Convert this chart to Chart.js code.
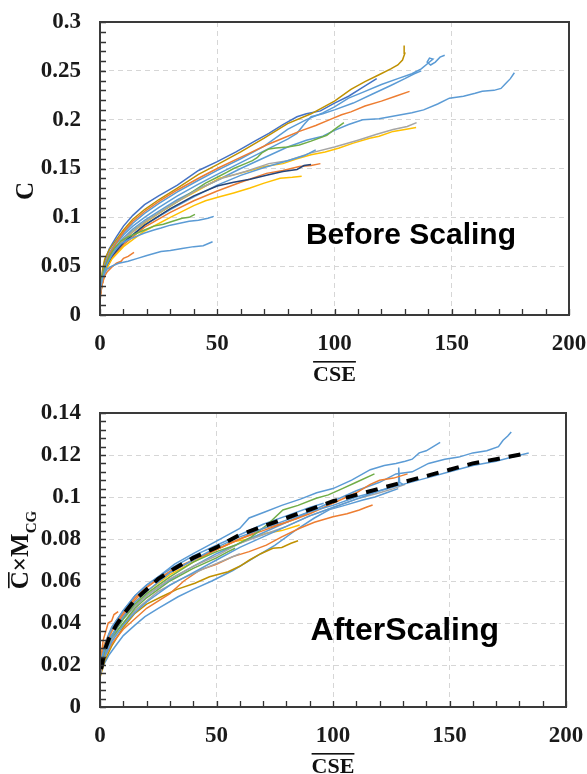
<!DOCTYPE html>
<html>
<head>
<meta charset="utf-8">
<script src="https://cdn.jsdelivr.net/npm/chart.js@4"></script>
<style>
  html, body { margin: 0; padding: 0; background: #fff; }
  .wrap { position: absolute; left: 0; width: 587px; }
  #top { top: 0; height: 390px; }
  #bot { top: 390px; height: 384px; }
</style>
</head>
<body>
<div class="wrap" id="top"><canvas id="chartTop" width="587" height="390"></canvas></div>
<div class="wrap" id="bot"><canvas id="chartBot" width="587" height="384"></canvas></div>
<script>
// ---- axis ticks ----
const xTicks = [0, 50, 100, 150, 200];
const yTicksTop = [0, 0.05, 0.1, 0.15, 0.2, 0.25, 0.3];
const yTicksBot = [0, 0.02, 0.04, 0.06, 0.08, 0.1, 0.12, 0.14];

// ---- Before Scaling: [CSE, C] ----
const t_lb1 = [[0,0.02],[0.5,0.03],[1,0.037],[2,0.043],[3,0.047],[5,0.05],[8,0.053],[12,0.055],[16,0.058],[20,0.061],[26,0.065],[30,0.066],[35,0.068],[40,0.07],[44,0.071],[48,0.075]];
const t_or1 = [[0,0.014],[0.5,0.025],[1,0.032],[2,0.04],[3,0.044],[5,0.049],[7,0.053],[9,0.055],[10,0.058],[12,0.06],[14.5,0.064]];
const t_lb2 = [[0,0.02],[1,0.036],[2,0.045],[3,0.052],[5,0.061],[7,0.068],[9,0.073],[12,0.077],[15,0.08],[19,0.084],[23,0.087],[26,0.089],[30,0.092],[34,0.094],[38,0.096],[42,0.097],[46,0.099],[48.5,0.101]];
const t_gn1 = [[0,0.022],[1,0.04],[2,0.048],[4,0.06],[6,0.068],[9,0.076],[12,0.08],[15,0.083],[19,0.087],[23,0.091],[27,0.093],[31,0.096],[35,0.099],[38,0.1],[40.5,0.103]];
const t_bl1 = [[0,0.022],[1,0.042],[2,0.055],[4,0.068],[7,0.08],[10,0.091],[14,0.102],[19,0.113],[25,0.122],[33,0.133],[42,0.148],[50,0.157],[58,0.167],[66,0.178],[72,0.186],[78,0.195],[84,0.203],[88,0.206],[94,0.209],[100,0.217],[106,0.224],[112,0.233],[118,0.242]];
const t_ol1 = [[0,0.02],[1,0.045],[2,0.057],[4,0.067],[7,0.077],[10,0.087],[14,0.098],[19,0.108],[25,0.118],[33,0.13],[42,0.144],[50,0.154],[60,0.167],[70,0.181],[80,0.196],[90,0.206],[100,0.219],[107,0.231],[113,0.239],[119,0.246],[124,0.252],[127,0.256],[129,0.261],[130,0.268],[129.7,0.276]];
const t_lb3 = [[0,0.02],[1,0.04],[2,0.052],[4,0.064],[7,0.075],[10,0.084],[14,0.094],[19,0.104],[25,0.114],[33,0.126],[42,0.138],[50,0.148],[60,0.16],[70,0.173],[80,0.19],[88,0.2],[95,0.207],[100,0.213],[106,0.222],[112,0.228],[120,0.236],[127,0.242],[133,0.247],[137,0.252],[140,0.258],[142,0.262],[140.5,0.263],[139.5,0.259],[141,0.256],[143,0.259],[145,0.264],[147,0.266]];
const t_lb4 = [[0,0.02],[1,0.038],[2,0.05],[4,0.062],[7,0.073],[10,0.082],[14,0.091],[19,0.1],[25,0.11],[33,0.122],[42,0.134],[50,0.144],[60,0.156],[70,0.168],[80,0.18],[84,0.186],[87,0.195],[90,0.203],[95,0.206],[100,0.21],[108,0.217],[116,0.226],[124,0.235],[130,0.242],[134,0.247],[137,0.25]];
const t_or2 = [[0,0.018],[1,0.038],[2,0.05],[4,0.062],[7,0.074],[10,0.085],[14,0.096],[19,0.106],[25,0.116],[33,0.128],[42,0.14],[50,0.15],[57,0.158],[64,0.166],[71,0.174],[78,0.181],[85,0.188],[92,0.194],[98,0.2],[103,0.205],[107,0.208],[113,0.214],[120,0.219],[126,0.224],[132,0.229]];
const t_lb5 = [[0,0.02],[1,0.036],[2,0.047],[4,0.059],[7,0.07],[10,0.079],[14,0.088],[19,0.097],[25,0.106],[33,0.118],[42,0.129],[50,0.138],[60,0.15],[70,0.161],[80,0.172],[88,0.179],[95,0.183],[100,0.189],[106,0.195],[112,0.2],[119,0.201],[126,0.204],[133,0.207],[138,0.21],[144,0.216],[149,0.222],[155,0.224],[160,0.227],[163,0.229],[168,0.23],[171,0.232],[173,0.237],[175,0.242],[176.7,0.248]];
const t_gn2 = [[0,0.02],[1,0.038],[2,0.048],[4,0.059],[7,0.069],[10,0.077],[14,0.086],[19,0.095],[25,0.104],[33,0.116],[40,0.127],[45,0.135],[50,0.141],[54,0.146],[57,0.15],[62,0.155],[65,0.158],[67,0.161],[69,0.166],[72,0.17],[75,0.171],[80,0.172],[85,0.174],[90,0.178],[96.7,0.184],[100,0.19],[104,0.197]];
const t_ye1 = [[0,0.02],[1,0.037],[2,0.047],[4,0.058],[7,0.068],[10,0.076],[14,0.085],[19,0.094],[25,0.104],[33,0.116],[42,0.128],[51,0.14],[58,0.144],[64,0.148],[70,0.152],[78,0.155],[84,0.16],[90,0.164],[96,0.167],[102,0.171],[108,0.176],[115,0.181],[119,0.183],[125,0.188],[130,0.19],[134.8,0.192]];
const t_gy1 = [[0,0.02],[2,0.047],[5,0.062],[10,0.078],[19,0.095],[30,0.112],[42,0.129],[52,0.14],[62,0.147],[72,0.155],[80,0.158],[90,0.166],[100,0.172],[110,0.179],[118,0.185],[125,0.19],[131,0.193],[135,0.197]];
const t_lb6 = [[0,0.02],[2,0.046],[5,0.06],[10,0.075],[19,0.092],[30,0.108],[40,0.121],[50,0.133],[60,0.143],[70,0.151],[80,0.158],[87,0.163],[92,0.169]];
const t_or3 = [[0,0.02],[2,0.044],[5,0.058],[10,0.072],[19,0.09],[30,0.105],[40,0.117],[50,0.127],[60,0.136],[71,0.145],[78,0.148],[85,0.152],[90,0.153],[94,0.155]];
const t_nv1 = [[0,0.02],[2,0.046],[5,0.06],[10,0.074],[19,0.092],[30,0.109],[40,0.122],[50,0.132],[57,0.136],[64,0.139],[71,0.143],[78,0.147],[84,0.149],[87,0.153],[90,0.154]];
const t_ye2 = [[0,0.02],[2,0.044],[5,0.057],[10,0.07],[19,0.086],[30,0.1],[40,0.112],[45,0.117],[51,0.121],[57,0.125],[64,0.13],[70,0.135],[76.8,0.14],[82,0.141],[86,0.142]];

// ---- After Scaling: [CSE, C x MCG] ----
const b_fit  = [[0.5,0.018],[2,0.027],[4,0.033],[7,0.039],[10,0.044],[15,0.051],[20,0.056],[25,0.061],[32,0.066],[40,0.071],[50,0.076],[60,0.082],[70,0.086],[80,0.09],[90,0.094],[100,0.098],[110,0.101],[120,0.104],[130,0.107],[140,0.11],[150,0.113],[160,0.116],[170,0.118],[184,0.121]];
const b_lb1 = [[0,0.018],[1,0.024],[2,0.029],[4,0.035],[7,0.041],[10,0.046],[15,0.053],[20,0.058],[25,0.062],[32,0.068],[40,0.073],[50,0.079],[60,0.085],[64,0.09],[71,0.093],[78,0.096],[86,0.099],[93,0.102],[100,0.104],[108,0.108],[116,0.113],[122,0.115],[127,0.116],[131,0.117],[134,0.118],[137,0.121],[140,0.122],[143,0.124],[146,0.126]];
const b_lb2 = [[0,0.016],[2,0.025],[4,0.031],[7,0.037],[10,0.042],[15,0.048],[20,0.053],[25,0.057],[32,0.062],[40,0.067],[50,0.073],[60,0.078],[70,0.083],[80,0.088],[90,0.093],[100,0.098],[110,0.103],[120,0.107],[127,0.111],[134,0.112],[141,0.116],[148,0.118],[154,0.119],[160,0.121],[166,0.122],[171,0.124],[173,0.127],[175,0.129],[176.5,0.131]];
const b_lb3 = [[0,0.02],[2,0.028],[5,0.034],[10,0.043],[15,0.05],[20,0.055],[30,0.064],[40,0.07],[50,0.076],[60,0.081],[70,0.085],[80,0.089],[90,0.093],[100,0.096],[110,0.1],[120,0.103],[130,0.106],[140,0.109],[150,0.112],[160,0.115],[170,0.117],[177,0.119],[184,0.121]];
const b_gn1 = [[0,0.018],[2,0.027],[5,0.034],[10,0.042],[15,0.049],[20,0.054],[30,0.062],[40,0.069],[50,0.074],[58,0.077],[65,0.081],[72,0.087],[78.5,0.0938],[85,0.096],[92.8,0.0994],[98,0.101],[104,0.104],[110,0.107],[117.8,0.111]];
const b_or1 = [[0,0.016],[2,0.027],[5,0.036],[10,0.044],[15,0.051],[20,0.057],[25,0.061],[32,0.066],[40,0.07],[50,0.075],[60,0.08],[70,0.084],[80,0.088],[90,0.092],[100,0.097],[110,0.102],[116,0.106],[120,0.108],[126,0.109],[132,0.111]];
const b_lb4 = [[0,0.015],[2,0.024],[5,0.031],[10,0.039],[15,0.045],[20,0.05],[30,0.058],[40,0.064],[50,0.07],[60,0.076],[70,0.081],[80,0.086],[90,0.091],[100,0.095],[110,0.099],[120,0.103],[126,0.105],[128,0.106],[128.2,0.114],[128.6,0.107],[130,0.106]];
const b_gy1 = [[0,0.018],[2,0.027],[5,0.034],[10,0.042],[15,0.048],[20,0.053],[30,0.061],[40,0.067],[50,0.072],[60,0.078],[70,0.082],[80,0.086],[90,0.091],[100,0.095],[110,0.099],[120,0.102],[126,0.104],[131,0.106]];
const b_or2 = [[0,0.015],[2,0.024],[5,0.03],[10,0.037],[15,0.042],[20,0.047],[30,0.054],[36,0.06],[42.8,0.0652],[50,0.068],[57,0.0716],[64,0.074],[71.4,0.0771],[78,0.081],[85.7,0.0851],[92,0.088],[100,0.0906],[106,0.092],[111.3,0.0938],[114,0.095],[117,0.0962]];
const b_ol1 = [[0,0.014],[2,0.022],[5,0.029],[10,0.038],[15,0.0446],[20,0.049],[26.4,0.0525],[33,0.056],[40.7,0.0589],[47,0.062],[55,0.0644],[60,0.067],[64.2,0.07],[69,0.073],[74.2,0.0756],[78,0.076],[82,0.078],[85,0.0792]];
const b_ye1 = [[0,0.02],[2,0.03],[5,0.036],[10,0.043],[15,0.05],[20,0.055],[30,0.063],[40,0.069],[50,0.075],[57,0.0787],[64,0.08],[71.4,0.0827],[78,0.084],[85.7,0.0867]];
const b_or3 = [[0,0.018],[0.7,0.026],[1.4,0.032],[2.5,0.036],[3.5,0.04],[5,0.041],[6,0.044],[7.8,0.0454]];
const b_lb5 = [[0,0.016],[2,0.021],[4,0.025],[6.4,0.0287],[10,0.034],[15,0.039],[19.3,0.043],[25,0.047],[33.5,0.0525],[40,0.056],[48,0.06],[57,0.065],[66,0.071],[75,0.077],[85,0.085],[92,0.09],[98.5,0.094],[105,0.096],[112.8,0.0986],[118,0.1],[124.2,0.1025],[128,0.104]];
const b_or4 = [[0,0.02],[2,0.03],[5,0.037],[10,0.045],[15,0.052],[20,0.057],[25,0.061],[30,0.064],[40,0.07],[50,0.075],[60,0.08],[70,0.085],[80,0.088],[85,0.09],[90,0.093]];
const b_gn2 = [[0,0.018],[2,0.026],[5,0.033],[10,0.04],[15,0.047],[20,0.052],[30,0.06],[40,0.066],[50,0.071],[55,0.074],[58,0.0756]];
const b_gy2 = [[0,0.017],[3,0.028],[8,0.037],[15,0.046],[25,0.055],[35,0.061],[45,0.066],[60,0.073]];
const b_lb6 = [[0,0.02],[2,0.03],[5,0.038],[10,0.046],[15,0.053],[20,0.058],[25,0.062],[32,0.067],[40,0.072],[50,0.077],[60,0.082],[70,0.087],[80,0.091],[90,0.095],[96,0.097]];

const COL = {
  lb: '#5B9BD5', or: '#ED7D31', gy: '#A5A5A5', ye: '#FFC000',
  bl: '#4472C4', gn: '#70AD47', nv: '#264478', ol: '#BF9000'
};

const SERIF = "'Liberation Serif', 'Times New Roman', serif";
const SANS = "'Liberation Sans', Arial, sans-serif";

function lineSet(pts, col) {
  return {
    data: pts.map(([x, y]) => ({ x, y })),
    borderColor: COL[col],
    borderWidth: 1.5,
    pointRadius: 0,
    showLine: true,
    fill: false,
    tension: 0
  };
}

const topSets = [
  [t_lb1,'lb'],[t_or1,'or'],[t_lb2,'lb'],[t_gn1,'gn'],[t_ye2,'ye'],[t_nv1,'nv'],[t_or3,'or'],
  [t_lb6,'lb'],[t_gy1,'gy'],[t_ye1,'ye'],[t_gn2,'gn'],[t_lb5,'lb'],[t_or2,'or'],[t_lb4,'lb'],
  [t_lb3,'lb'],[t_ol1,'ol'],[t_bl1,'bl']
].map(([p, c]) => lineSet(p, c));

const botSets = [
  Object.assign(lineSet(b_fit, 'lb'), { borderColor: '#000', borderWidth: 4, borderDash: [12, 9] }),
  ...[
    [b_lb3,'lb'],[b_lb1,'lb'],[b_gn1,'gn'],[b_or1,'or'],[b_lb4,'lb'],[b_gy1,'gy'],[b_lb2,'lb'],
    [b_or4,'or'],[b_ye1,'ye'],[b_gn2,'gn'],[b_gy2,'gy'],[b_lb6,'lb'],[b_or2,'or'],[b_ol1,'ol'],
    [b_lb5,'lb'],[b_or3,'or']
  ].map(([p, c]) => lineSet(p, c))
];

// frame box + inward minor ticks
const FrameTicks = {
  id: 'FrameTicks',
  afterDatasetsDraw(chart, args, o) {
    const { ctx, chartArea: a, scales: { x, y } } = chart;
    ctx.save();
    ctx.strokeStyle = '#333';
    ctx.lineWidth = 1.3;
    ctx.beginPath();
    for (let k = 0; k * o.xMinor <= x.max + 1e-9; k++) {
      const px = Math.round(x.getPixelForValue(k * o.xMinor)) + 0.5;
      ctx.moveTo(px, a.bottom); ctx.lineTo(px, a.bottom - 6);
    }
    for (let k = 0; k * o.yMinor <= y.max + 1e-9; k++) {
      const py = Math.round(y.getPixelForValue(k * o.yMinor)) + 0.5;
      ctx.moveTo(a.left, py); ctx.lineTo(a.left + 6, py);
    }
    ctx.stroke();
    ctx.lineWidth = 2;
    ctx.strokeStyle = '#3a3a3a';
    ctx.strokeRect(a.left, a.top, a.right - a.left, a.bottom - a.top);
    ctx.restore();
  }
};

// axis titles (overlines, subscript) and the note inside the plot
const Titles = {
  id: 'Titles',
  afterDraw(chart, args, o) {
    const { ctx, chartArea: a, scales: { x, y } } = chart;
    ctx.save();
    ctx.fillStyle = '#111';
    ctx.textBaseline = 'alphabetic';

    // x title with overline
    ctx.font = `bold 22px ${SERIF}`;
    ctx.textAlign = 'center';
    const cx = (a.left + a.right) / 2;
    ctx.fillText('CSE', cx, a.bottom + 66);
    const w = ctx.measureText('CSE').width;
    ctx.fillRect(cx - w / 2, a.bottom + 46, w, 1.6);

    // y title, rotated
    ctx.save();
    ctx.translate(o.yTitleAt[0], o.yTitleAt[1]);
    ctx.rotate(-Math.PI / 2);
    ctx.textAlign = 'left';
    let total = 0;
    o.yParts.forEach(p => { ctx.font = `bold ${p.size}px ${SERIF}`; p.w = ctx.measureText(p.t).width; total += p.w; });
    let px = -total / 2;
    o.yParts.forEach(p => {
      ctx.font = `bold ${p.size}px ${SERIF}`;
      ctx.fillText(p.t, px, p.dy || 0);
      if (p.over) ctx.fillRect(px + 1, -p.size * 0.8, p.w - 2, 1.6);
      px += p.w;
    });
    ctx.restore();

    // note
    ctx.font = `bold ${o.noteSize}px ${SANS}`;
    ctx.textAlign = 'center';
    ctx.fillStyle = '#000';
    ctx.fillText(o.note, x.getPixelForValue(o.noteAt[0]), y.getPixelForValue(o.noteAt[1]));
    ctx.restore();
  }
};

function fmt(v) { return String(Number(v.toFixed(3))); }

function makeChart(id, datasets, cfg) {
  const tickFont = { family: SERIF, size: 23, weight: 'bold' };
  return new Chart(document.getElementById(id), {
    type: 'scatter',
    data: { datasets },
    options: {
      responsive: false,
      animation: false,
      layout: { padding: { top: cfg.padTop, right: cfg.padRight, left: 0, bottom: 0 } },
      plugins: {
        legend: { display: false },
        tooltip: { enabled: false },
        FrameTicks: { xMinor: 10, yMinor: cfg.yMinor },
        Titles: { yTitleAt: cfg.yTitleAt, yParts: cfg.yParts, note: cfg.note, noteSize: cfg.noteSize, noteAt: cfg.noteAt }
      },
      scales: {
        x: {
          type: 'linear',
          min: xTicks[0], max: xTicks[xTicks.length - 1],
          afterBuildTicks: s => { s.ticks = xTicks.map(v => ({ value: v })); },
          afterFit: s => { s.height = cfg.xAxisH; s.paddingLeft = 0; s.paddingRight = 0; s.paddingTop = 0; s.paddingBottom = 0; },
          ticks: { font: tickFont, color: '#1a1a1a', padding: 15, maxRotation: 0, callback: fmt },
          grid: { color: '#D6D6D6', lineWidth: 1, drawTicks: false },
          border: { display: false, dash: [5, 4] }
        },
        y: {
          type: 'linear',
          min: cfg.yTicks[0], max: cfg.yTicks[cfg.yTicks.length - 1],
          afterBuildTicks: s => { s.ticks = cfg.yTicks.map(v => ({ value: v })); },
          afterFit: s => { s.width = 100; s.paddingLeft = 0; s.paddingRight = 0; s.paddingTop = 0; s.paddingBottom = 0; },
          ticks: { font: tickFont, color: '#1a1a1a', padding: 19, callback: fmt },
          grid: { color: '#D6D6D6', lineWidth: 1, drawTicks: false },
          border: { display: false, dash: [5, 4] }
        }
      }
    },
    plugins: [FrameTicks, Titles]
  });
}

makeChart('chartTop', topSets, {
  padTop: 22, padRight: 18, xAxisH: 75,
  yTicks: yTicksTop, yMinor: 0.01,
  yTitleAt: [33, 191],
  yParts: [{ t: 'C', size: 25 }],
  note: 'Before Scaling', noteSize: 30, noteAt: [132.6, 0.0732]
});

makeChart('chartBot', botSets, {
  padTop: 23, padRight: 21, xAxisH: 67,
  yTicks: yTicksBot, yMinor: 0.004,
  yTitleAt: [28, 160],
  yParts: [{ t: 'C', size: 25, over: true }, { t: '×M', size: 25 }, { t: 'CG', size: 15, dy: 8 }],
  note: 'AfterScaling', noteSize: 32, noteAt: [130.8, 0.0319]
});
</script>
</body>
</html>
